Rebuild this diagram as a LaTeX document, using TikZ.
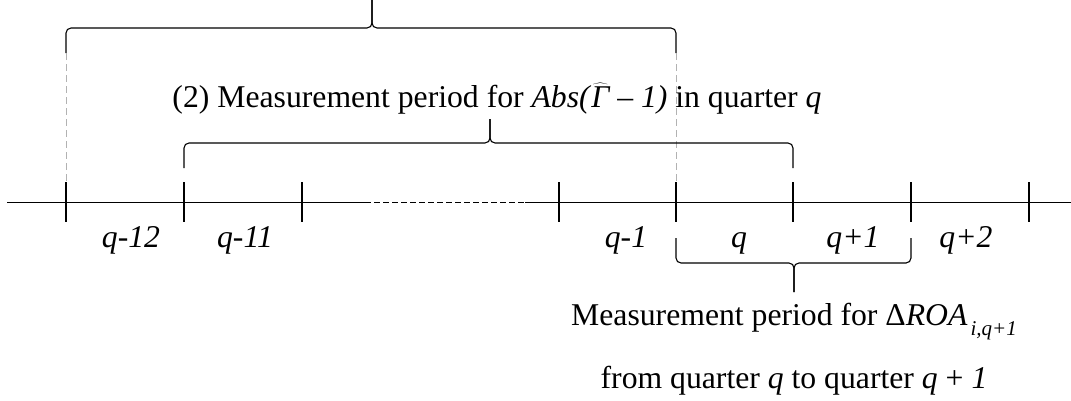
\documentclass[tikz,border=0pt]{standalone}
\usepackage{fontspec}
\setmainfont{Liberation Serif}
\usetikzlibrary{positioning}

\begin{document}
\begin{tikzpicture}[
    x=1pt, y=-1pt,
    axis/.style={line width=1pt},
    tick/.style={line width=1.3pt},
    brace/.style={line width=1.1pt, rounded corners=5pt},
    guide/.style={line width=1pt, draw=black!30, dash pattern=on 7pt off 4pt},
    period/.style={font=\fontsize{31.7}{38}\selectfont\itshape, anchor=base},
    caption/.style={font=\fontsize{31.7}{38}\selectfont, anchor=base}
]

\useasboundingbox (0,0) rectangle (1071,400);

% -------------------------
% Time axis
% -------------------------
\coordinate (Start) at (7,202);
\coordinate (GapL) at (365,202);
\coordinate (GapR) at (525,202);
\coordinate (End) at (1071,202);

\draw[axis] (Start) -- (GapL);
\draw[axis, dash pattern=on 6pt off 3pt] (GapL) -- (GapR);
\draw[axis] (GapR) -- (End);

% Tick marks
\foreach \name/\x in {q12/66, q11/184, q10/302, q1/559, q0/676, p1/793, p2/911, p3/1029} {
    \coordinate (\name) at (\x,202);
    \draw[tick] (\x,182) -- (\x,222);
}

% Quarter labels
\node[period] (Lq12) at (131,247) {q-12};
\node[period] (Lq11) at (245,247) {q-11};
\node[period] (Lq1) at (626,247) {q-1};
\node[period] (Lq0) at (739,247) {q};
\node[period] (Lp1) at (853,247) {q+1};
\node[period] (Lp2) at (966,247) {q+2};

% -------------------------
% Braces
% -------------------------

% (1) long window, q-12 to q
\coordinate (TipA) at (372,0);
\draw[brace] (66,53) |- (TipA |- 0,28) -- (TipA);
\draw[brace] (676,53) |- (TipA |- 0,28) -- (TipA);
\draw[guide] (66,53) -- (q12 |- 0,182);
\draw[guide] (676,53) -- (q0 |- 0,182);

% (2) window q-11 to q+1
\coordinate (TipB) at (490,119);
\draw[brace] (q11 |- 0,168) |- (TipB |- 0,143) -- (TipB);
\draw[brace] (p1 |- 0,168) |- (TipB |- 0,143) -- (TipB);

\node[caption] (Abs) at (497,107)
    {(2) Measurement period for \textit{Abs(}$\widehat{\textit{Γ}}$\textit{ – 1)} in quarter \textit{q}};

% change in ROA, q to q+1
\coordinate (TipC) at (794,292);
\draw[brace] (q0 |- 0,238) |- (TipC |- 0,263) -- (TipC);
\draw[brace] (p2 |- 0,238) |- (TipC |- 0,263) -- (TipC);

\node[caption] (Roa) at (794,325)
    {Measurement period for Δ\textit{ROA}\hspace{3pt}\raisebox{-10pt}{\fontsize{21}{25}\selectfont\itshape i,q+1}};
\node[caption] (Span) at (794,388)
    {from quarter \textit{q} to quarter \textit{q} + \textit{1}};

\end{tikzpicture}
\end{document}
